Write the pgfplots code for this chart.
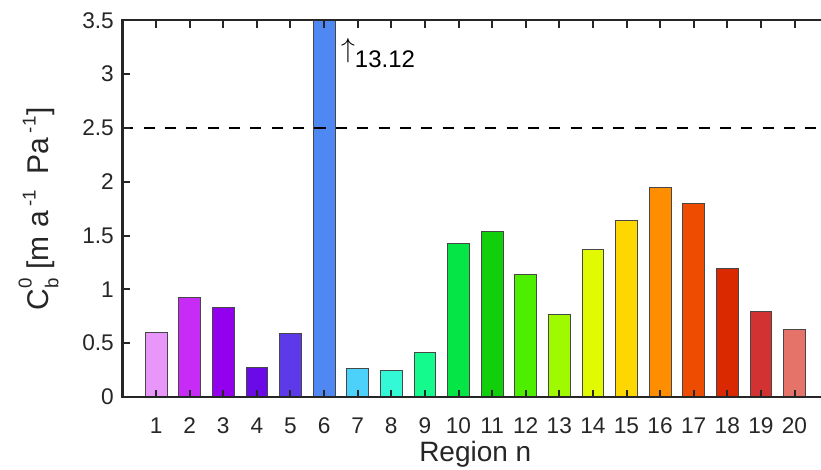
\documentclass[border=0pt]{standalone}
\usepackage{fontspec}
\setmainfont{Liberation Sans}
\usepackage{pgfplots}
\pgfplotsset{compat=1.18}
\definecolor{axgray}{HTML}{262626}
\definecolor{c1}{HTML}{E996FA}
\definecolor{c2}{HTML}{C62CF5}
\definecolor{c3}{HTML}{9300EE}
\definecolor{c4}{HTML}{6A0AE6}
\definecolor{c5}{HTML}{5C3AEA}
\definecolor{c6}{HTML}{4F88F2}
\definecolor{c7}{HTML}{4CD2FA}
\definecolor{c8}{HTML}{33F9D6}
\definecolor{c9}{HTML}{14FA8C}
\definecolor{c10}{HTML}{05E646}
\definecolor{c11}{HTML}{12CF0C}
\definecolor{c12}{HTML}{4DEE00}
\definecolor{c13}{HTML}{9FFA00}
\definecolor{c14}{HTML}{E1FA00}
\definecolor{c15}{HTML}{FED700}
\definecolor{c16}{HTML}{FE8E00}
\definecolor{c17}{HTML}{EE4C00}
\definecolor{c18}{HTML}{DA2800}
\definecolor{c19}{HTML}{D33232}
\definecolor{c20}{HTML}{E5736A}
\newcommand\sups[2]{\raisebox{#1}{\fontsize{14}{14}\selectfont #2}}
\pgfplotsset{
  mybar/.style={ybar, bar shift=0pt, bar width=0.645, draw=black!72, line width=0.6pt, fill=#1},
}
\tikzset{mytick/.style={line width=1.5pt, draw=axgray}}
\begin{document}
\begin{tikzpicture}
\begin{axis}[
  scale only axis,
  width=529.2pt, height=282.5pt,
  xmin=0, xmax=21, ymin=0, ymax=3.5,
  xtick={1,2,...,20},
  ytick={0,0.5,1,1.5,2,2.5,3,3.5},
  axis on top,
  xtick pos=both, ytick pos=both,
  tick align=inside,
  major tick length=5.5pt,
  major tick style={line width=1.5pt, draw=axgray},
  axis line style={line width=1.6pt, draw=axgray},
  ticklabel style={font=\fontsize{17}{17}\selectfont, text=axgray},
  yticklabel style={xshift=-3pt},
  xticklabel style={yshift=-12pt},
  /pgf/number format/assume math mode=true,
  label style={font=\fontsize{21}{21}\selectfont, text=axgray},
  xlabel={Region n},
  ylabel={\fontsize{22.5}{22.5}\selectfont C\rlap{\sups{-7pt}{b}}\sups{13pt}{0}\hspace{0.3em}[m a\hspace{0.15em}\sups{10pt}{-1}\hspace{0.25em} Pa\hspace{0.15em}\sups{10pt}{-1}\hspace{0.05em}]},
  xlabel shift=-1.5pt,
  ylabel shift=11pt,
  clip=true,
]
\coordinate (bl) at (rel axis cs:0,0);
\addplot[mybar=c1] coordinates {(1,0.604)};
\addplot[mybar=c2] coordinates {(2,0.929)};
\addplot[mybar=c3] coordinates {(3,0.831)};
\addplot[mybar=c4] coordinates {(4,0.276)};
\addplot[mybar=c5] coordinates {(5,0.595)};
\addplot[mybar=c6] coordinates {(6,13.12)};
\addplot[mybar=c7] coordinates {(7,0.270)};
\addplot[mybar=c8] coordinates {(8,0.245)};
\addplot[mybar=c9] coordinates {(9,0.418)};
\addplot[mybar=c10] coordinates {(10,1.431)};
\addplot[mybar=c11] coordinates {(11,1.540)};
\addplot[mybar=c12] coordinates {(12,1.140)};
\addplot[mybar=c13] coordinates {(13,0.766)};
\addplot[mybar=c14] coordinates {(14,1.373)};
\addplot[mybar=c15] coordinates {(15,1.639)};
\addplot[mybar=c16] coordinates {(16,1.949)};
\addplot[mybar=c17] coordinates {(17,1.800)};
\addplot[mybar=c18] coordinates {(18,1.199)};
\addplot[mybar=c19] coordinates {(19,0.796)};
\addplot[mybar=c20] coordinates {(20,0.629)};
\addplot[black, line width=1.9pt, dash pattern=on 8.25pt off 7.75pt] coordinates {(0,2.5) (21,2.5)};
\pgfplotsinvokeforeach{1,...,20}{
  \draw[mytick] (axis cs:#1,0) -- (axis cs:#1,0.068);
  \draw[mytick] (axis cs:#1,3.5) -- (axis cs:#1,3.432);
}
\pgfplotsinvokeforeach{0,0.5,1,1.5,2,2.5,3,3.5}{
  \draw[mytick] (axis cs:0,#1) -- (axis cs:0.218,#1);
  \draw[mytick] (axis cs:21,#1) -- (axis cs:20.782,#1);
}
\node[anchor=base west, inner sep=0pt, font=\fontsize{18}{18}\selectfont, text=black] at (axis cs:6.5,3.064) {\raisebox{7.3pt}{\fontsize{22}{22}\selectfont$\uparrow$}13.12};
\end{axis}
\pgfresetboundingbox
\path[use as bounding box] ([xshift=-91.875pt, yshift=-54.75pt]bl) rectangle ([xshift=523.875pt, yshift=297.75pt]bl);
\end{tikzpicture}
\end{document}
